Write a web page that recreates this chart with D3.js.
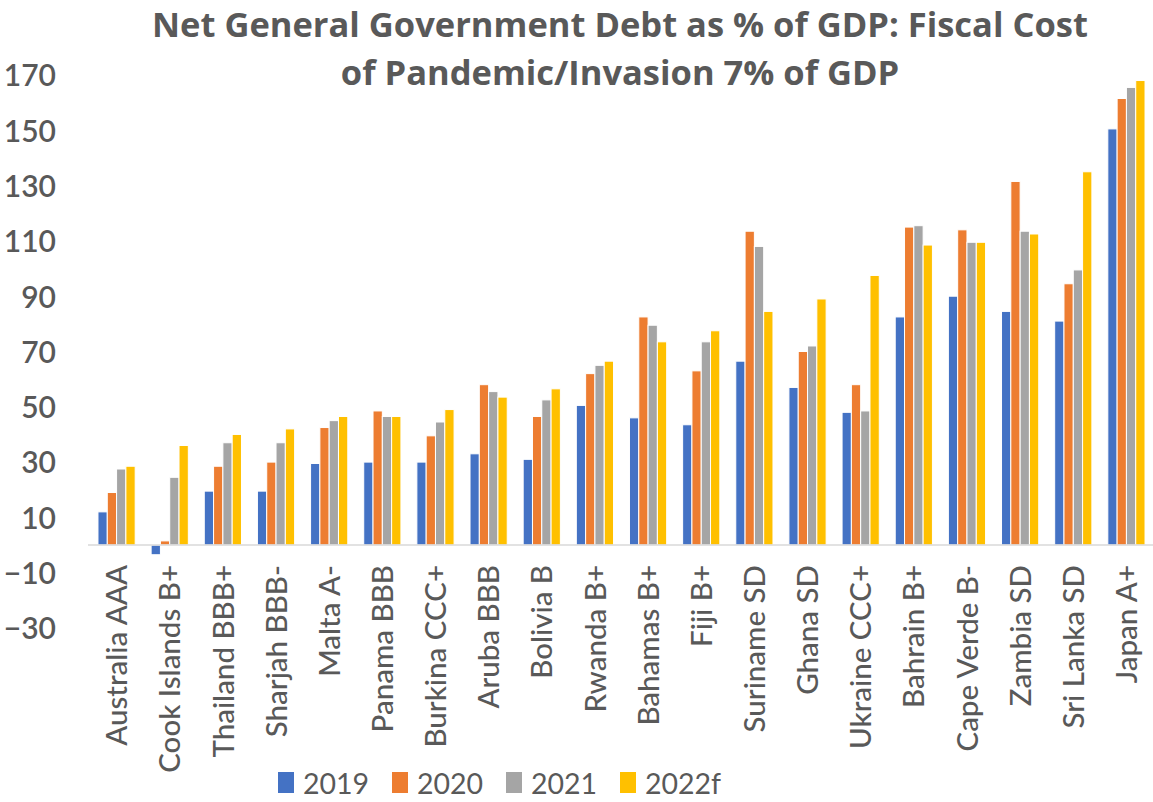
<!DOCTYPE html>
<html><head><meta charset="utf-8">
<script src="https://cdn.jsdelivr.net/npm/d3@7"></script>
<style>body{margin:0;background:#fff;} svg{display:block;}</style>
</head><body>
<svg id="chart" width="1153" height="802"></svg>
<script>
const categories = ["Australia AAA","Cook Islands B+","Thailand BBB+","Sharjah BBB-","Malta A-","Panama BBB","Burkina CCC+","Aruba BBB","Bolivia B","Rwanda B+","Bahamas B+","Fiji B+","Suriname SD","Ghana SD","Ukraine CCC+","Bahrain B+","Cape Verde B-","Zambia SD","Sri Lanka SD","Japan A+"];
const seriesNames = ["2019","2020","2021","2022f"];
const v2019 = [12, -3.5, 19.5, 19.5, 29.5, 30, 30, 33, 31, 50.5, 46, 43.5, 66.5, 57, 48, 82.5, 90, 84.5, 81, 150.5];
const v2020 = [19, 1.5, 28.5, 30, 42.5, 48.5, 39.5, 58, 46.5, 62, 82.5, 63, 113.5, 70, 58, 115, 114, 131.5, 94.5, 161.5];
const v2021 = [27.5, 24.5, 37, 37, 45, 46.5, 44.5, 55.5, 52.5, 65, 79.5, 73.5, 108, 72, 48.5, 115.5, 109.5, 113.5, 99.5, 165.5];
const v2022 = [28.5, 36, 40, 42, 46.5, 46.5, 49, 53.5, 56.5, 66.5, 73.5, 77.5, 84.5, 89, 97.5, 108.5, 109.5, 112.5, 135, 168];
const yTicks = [-30,-10,10,30,50,70,90,110,130,150,170];
const colors = ["#4472C4","#ED7D31","#A5A5A5","#FFC000"];
const titleLines = ["Net General Government Debt as % of GDP: Fiscal Cost","of Pandemic/Invasion 7% of GDP"];

const values = [v2019, v2020, v2021, v2022];
const svg = d3.select("#chart");
const FONT = "Lato, 'Open Sans', sans-serif";
const TFONT = "'Open Sans', Lato, sans-serif";
const TXT = "#595959";

const x0 = d3.scaleBand().domain(categories).range([90,1153]).paddingInner(0.3).paddingOuter(0.15);
const x1 = d3.scaleBand().domain(seriesNames).range([0, x0.bandwidth()]);
const y = d3.scaleLinear().domain([-30,170]).range([628,75]);

// title
svg.append("g").selectAll("text").data(titleLines).join("text")
  .attr("x", 620).attr("y", (d,i)=> 37 + i*48)
  .attr("text-anchor","middle").attr("font-family",TFONT).attr("font-weight",700)
  .attr("font-size",34.5).attr("fill",TXT).text(d=>d);

// bars
const rows = categories.map((c,i)=>({cat:c, vals: seriesNames.map((s,j)=>({s, j, v: values[j][i]}))}));
const g = svg.append("g");
g.selectAll("g").data(rows).join("g")
  .attr("transform", d=>`translate(${x0(d.cat)},0)`)
  .selectAll("rect").data(d=>d.vals).join("rect")
  .attr("x", d=>x1(d.s)).attr("width", x1.bandwidth())
  .attr("y", d=> y(Math.max(0,d.v))).attr("height", d=> Math.abs(y(d.v)-y(0)))
  .attr("fill", d=>colors[d.j]).attr("stroke","#fff").attr("stroke-width",1);

// zero line
svg.append("line").attr("x1",88).attr("x2",1153).attr("y1",y(0)).attr("y2",y(0))
  .attr("stroke","#d9d9d9").attr("stroke-width",1.5);

// y axis
const yAxis = d3.axisLeft(y).tickValues(yTicks).tickSize(0).tickPadding(0);
const ya = svg.append("g").attr("transform","translate(56,0)").call(yAxis);
ya.select(".domain").remove();
ya.selectAll("text").attr("font-family",FONT).attr("font-size",30).attr("font-weight",600)
  .attr("fill",TXT).attr("dy","0.36em");

// x axis labels
const xAxis = d3.axisBottom(x0).tickSize(0).tickPadding(0);
const xa = svg.append("g").attr("transform",`translate(0,565)`).call(xAxis);
xa.select(".domain").remove();
xa.selectAll("text").attr("font-family",FONT).attr("font-size",29.5).attr("font-weight",500)
  .attr("fill",TXT).attr("text-anchor","end").attr("transform","rotate(-90)")
  .attr("x",0).attr("y",0).attr("dy","0.36em");

// legend
const legX = [278, 392, 506, 620];
const leg = svg.append("g").selectAll("g").data(seriesNames).join("g")
  .attr("transform",(d,i)=>`translate(${legX[i]},0)`);
leg.append("rect").attr("x",0).attr("y",772).attr("width",16).attr("height",21).attr("fill",(d,i)=>colors[i]);
leg.append("text").attr("x",25).attr("y",794).attr("font-family",FONT).attr("font-size",28.5)
  .attr("fill",TXT).text(d=>d);
</script>
</body></html>
